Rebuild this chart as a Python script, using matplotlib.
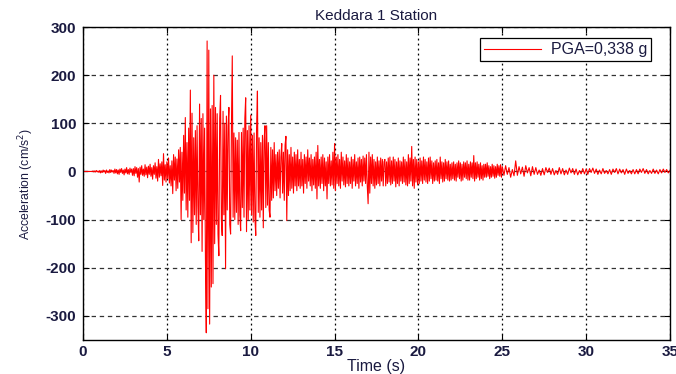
import numpy as np
import matplotlib.pyplot as plt

# acceleration (cm/s^2), 0-25 s sampled every 0.05 s, 25-35 s every 0.1 s
acc_00_05 = [
    0, 0, 0, 0, 0, 0, 0, 0, 0, 0, 0, 0, 1, -1, 1, -1, 2, -1, 1, -2,
    2, -3, 1, -2, 3, -1, 2, -4, 3, -2, 1, -3, 4, -2, 3, -1, 2, -4, 5, -3,
    4, -5, 3, -6, 5, -2, 6, -4, 3, -7, 5, -3, 8, -5, 4, -6, 7, -2, 5, -8,
    6, -9, 10, -4, 8, -12, 6, -22, 9, -6, 12, -8, 5, -10, 14, -7, 9, -13, 11, -6,
    15, -10, 8, -16, 12, -6, 18, -14, 10, -20, 25, -12, 16, -9, 20, -29, 37, -18, 14, -22,
]
acc_05_10 = [
    20, -15, 28, -24, 12, -30, 22, -46, 35, -18, 30, -40, 26, -35, 45, -22, 50, -100, 40, -60,
    75, -45, 112, -80, 60, -95, 90, -60, 169, -148, 121, -127, 70, -90, 85, -110, 95, -70, -144, 140,
    -90, 110, -166, 120, -100, 90, -180, -335, 271, -285, 252, -317, 130, -240, 137, -233, 200, -150, 133, -110,
    120, -130, -175, 110, 158, -100, -133, 125, -90, 100, -202, 115, -80, 95, 133, -110, -130, 90, 240, -95,
    80, -100, 70, -85, 65, -110, 81, -90, -123, 81, -75, 90, -95, 110, 153, -125, 85, -100, 95, -80,
]
acc_10_15 = [
    117, -90, 75, -105, 80, -95, -133, 90, 167, -85, 70, -95, 60, -80, 75, -117, 65, 95, -75, 95,
    -70, 60, -80, -95, 50, -60, 45, -55, 60, -40, 35, -50, 40, -35, 45, -55, 30, 58, -45, 40,
    -60, 55, 73, -102, 45, -50, 35, -40, 50, -35, 30, -45, 40, -30, 35, -40, 45, -30, 25, -35,
    40, -30, 25, -45, 35, -25, 30, -35, 45, -20, 28, -30, 35, -40, 25, -28, 30, -35, 40, -57,
    54, -30, 25, -35, 30, -25, 35, -40, 28, -30, 20, -57, 30, -25, 35, -30, 22, -28, 40, -35,
]
acc_15_20 = [
    58, -40, 30, -25, 35, -30, 25, -35, 40, -20, 30, -28, 22, -32, 35, -25, 28, -30, 20, -25,
    30, -35, 25, -20, 35, -30, 20, -25, 28, -35, 30, -22, 25, -30, 32, -20, 28, -25, 35, -30,
    -67, 40, -45, 30, -25, 35, -30, 25, -35, 20, -28, 30, -25, 22, -30, 28, -20, 25, -30, 20,
    25, -30, 20, -25, 28, -22, 30, -28, 22, -25, 30, -20, 25, -32, 20, -25, 28, -30, 22, -20,
    20, -25, 30, -22, 25, -28, 20, -30, 35, -25, 28, -20, 52, -30, 25, -35, 30, -22, 25, -28,
]
acc_20_25 = [
    20, -25, 28, -20, 22, -25, 30, -18, 25, -22, 20, -25, 28, -20, 30, -15, 22, -25, 18, -20,
    22, -18, 25, -20, 18, -25, 30, -15, 20, -22, 18, -20, 25, -15, 20, -18, 22, -20, 15, -18,
    18, -15, 20, -18, 15, -20, 18, -12, 22, -15, 18, -20, 15, -18, 20, -12, 18, -15, 22, -18,
    15, -18, 20, -12, 18, -15, 33, -20, 18, -15, 20, -12, 15, -18, 18, -15, 12, -18, 15, -12,
    15, -12, 18, -10, 12, -15, 10, -12, 15, -10, 12, -14, 10, -12, 15, -8, 12, -10, 14, -12,
]
acc_25_35 = [
    10, -8, 12, -6, 8, -12, 4, -9, 22, -8,
    10, -5, 9, -10, 12, -3, 8, -9, 10, -6,
    8, -6, 3, -8, 6, -7, 8, -2, 7, -6,
    6, -7, 2, -6, 8, -5, 6, -7, 3, -6,
    7, -3, 6, -6, 5, -7, 2, -5, 6, -5,
    5, -6, 6, -2, 7, -4, 5, -6, 3, -5,
    6, -4, 2, -5, 4, -6, 5, -2, 6, -5,
    5, -3, 4, -6, 5, -4, 2, -5, 4, -5,
    4, -5, 5, -2, 6, -4, 4, -5, 2, -4,
    5, -4, 3, -5, 4, -3, 5, -2, 4, -3, 2,
]

head = acc_00_05 + acc_05_10 + acc_10_15 + acc_15_20 + acc_20_25
t_head = np.arange(len(head)) * 0.05
t_tail = 25 + np.arange(len(acc_25_35)) * 0.1
t = np.concatenate([t_head, t_tail])
acc = np.array(head + acc_25_35, dtype=float)

plt.rcParams['font.family'] = ['Liberation Sans', 'DejaVu Sans']
plt.rcParams['axes.unicode_minus'] = False
txt_col = '#1a1a40'

fig = plt.figure(figsize=(6.76, 3.74), dpi=100)
ax = fig.add_axes([0.1228, 0.0909, 0.8683, 0.8369])

ax.plot(t, acc, color='#ff0000', lw=0.8, label='PGA=0,338 g')

ax.set_xlim(0, 35)
ax.set_ylim(-350, 300)
ax.set_xticks(np.arange(0, 36, 5))
ax.set_yticks([-300, -200, -100, 0, 100, 200, 300])

ax.xaxis.grid(True, color='black', linestyle=(0, (1.5, 2.5)), lw=0.9)
ax.yaxis.grid(True, color='#333333', linestyle=(0, (3.5, 3)), lw=0.9)
ax.set_axisbelow(True)

ax.tick_params(direction='in', top=True, right=True, length=4, labelsize=11,
               colors='black', labelcolor=txt_col)
ax.tick_params(axis='y', pad=5)
for lab in ax.get_xticklabels() + ax.get_yticklabels():
    lab.set_fontweight('bold')
for s in ax.spines.values():
    s.set_linewidth(1.0)

ax.set_xlabel('Time (s)', fontsize=11.5, labelpad=0, color=txt_col)
ax.set_ylabel('Acceleration (cm/s$^2$)', fontsize=8.8, labelpad=7, color=txt_col)
ax.set_title('Keddara 1 Station', fontsize=11, pad=5, color=txt_col)

leg = ax.legend(loc='upper right', fontsize=11.5, fancybox=False, framealpha=1,
                edgecolor='black', borderpad=0.25, handlelength=3.6,
                handletextpad=0.6, bbox_to_anchor=(0.982, 0.99))
leg.get_frame().set_linewidth(0.9)
for tx in leg.get_texts():
    tx.set_color(txt_col)

fig.savefig('out.png', dpi=100)
